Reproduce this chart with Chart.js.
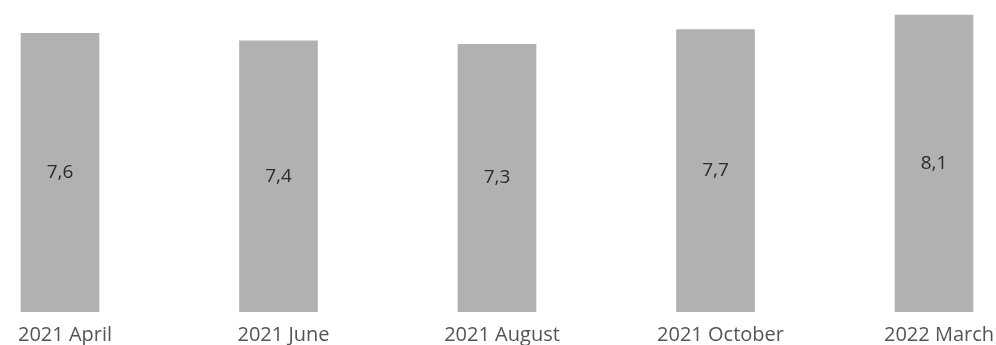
<!DOCTYPE html>
<html>
<head>
<meta charset="utf-8">
<script src="https://cdn.jsdelivr.net/npm/chart.js@4"></script>
<style>
  html, body { margin: 0; padding: 0; background: #fff; }
  #wrap { width: 996px; height: 345px; }
</style>
</head>
<body>
<div id="wrap"><canvas id="chart" width="996" height="345"></canvas></div>
<script>
// values
const categories = ["2021 April", "2021 June", "2021 August", "2021 October", "2022 March"];
const values = [7.6, 7.4, 7.3, 7.7, 8.1];

// value labels in the middle of each bar, with a decimal comma
const barLabels = {
  id: "barLabels",
  afterDatasetsDraw(chart) {
    const ctx = chart.ctx;
    const meta = chart.getDatasetMeta(0);
    ctx.save();
    ctx.font = "19px 'Open Sans', sans-serif";
    ctx.fillStyle = "#2b2b2b";
    ctx.textAlign = "center";
    ctx.textBaseline = "middle";
    meta.data.forEach((bar, i) => {
      const y = (bar.y + bar.base) / 2;
      ctx.fillText(values[i].toFixed(1).replace(".", ","), bar.x, y);
    });
    ctx.restore();
  },
};

new Chart(document.getElementById("chart"), {
  type: "bar",
  data: {
    labels: categories,
    datasets: [
      {
        data: values,
        backgroundColor: "#b1b1b1",
        borderWidth: 0,
        categoryPercentage: 1,
        barPercentage: 0.36,
        clip: false,
      },
    ],
  },
  options: {
    responsive: false,
    animation: false,
    layout: { padding: { left: 60, right: 62, top: 0, bottom: 0 } },
    scales: {
      x: {
        offset: false,
        grid: { display: false, drawTicks: false },
        border: { display: false },
        afterFit(scale) {
          // fixed axis height, and let the layout padding decide the sides
          scale.height = 33;
          scale.paddingLeft = 0;
          scale.paddingRight = 0;
        },
        ticks: {
          color: "#555555",
          padding: 11,
          labelOffset: 5,
          maxRotation: 0,
          autoSkip: false,
          font: { family: "'Open Sans', sans-serif", size: 20 },
        },
      },
      y: { display: false, min: 0, max: 8.5 },
    },
    plugins: {
      legend: { display: false },
      tooltip: { enabled: false },
    },
  },
  plugins: [barLabels],
});
</script>
</body>
</html>
